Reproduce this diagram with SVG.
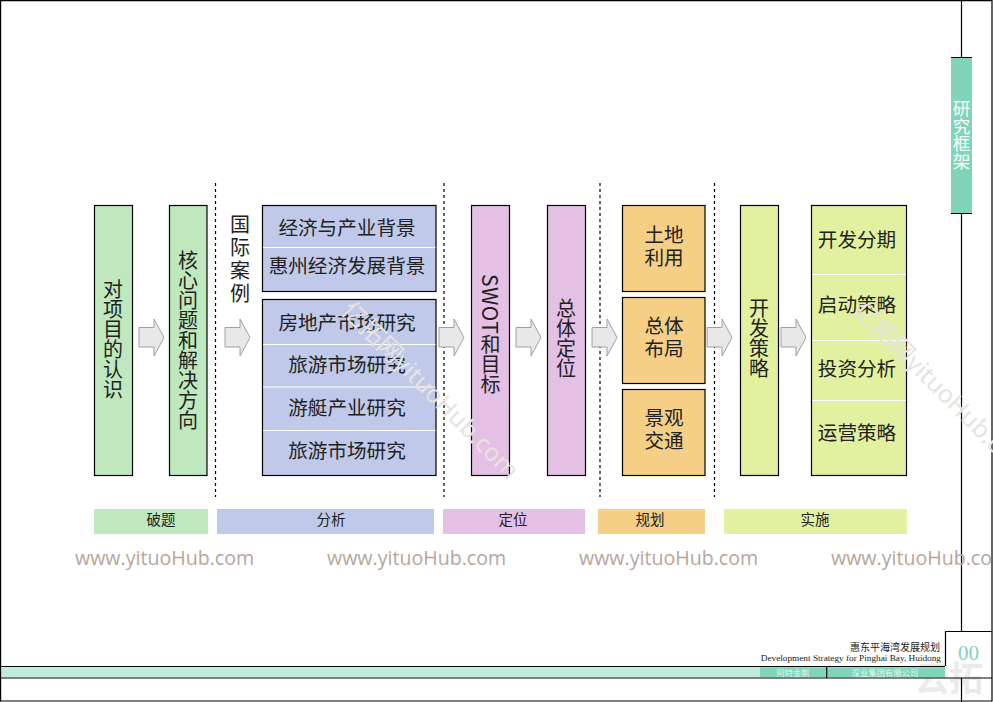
<svg xmlns="http://www.w3.org/2000/svg" width="993" height="702" viewBox="0 0 993 702">
<style>
text{font-family:"Noto Sans CJK SC","Noto Sans",sans-serif;fill:#222}
.b{stroke:#000;stroke-width:1.2}
.g{fill:#bfe8bf}.u{fill:#c0c9e9}.p{fill:#e3c0e4}.o{fill:#f4cf85}.l{fill:#e2f1a0}
.t{font-size:19.6px;text-anchor:middle}
.v{font-size:20px;text-anchor:start;writing-mode:vertical-rl}
.s{font-size:14.5px;text-anchor:middle}
.w{stroke:#fff;stroke-width:1.2}
.k{stroke:#000;stroke-width:1.2;fill:none}
.d{stroke:#000;stroke-width:1.2;stroke-dasharray:3 3;fill:none}
.a{fill:#e8e8e8;stroke:#a0a0a0;stroke-width:1}
.wm{font-family:"Open Sans","Noto Sans",sans-serif;font-size:19.6px;fill:#b5a69b}
.dg{font-family:"Noto Sans","Noto Sans CJK SC",sans-serif;font-size:24.8px;fill:#e6e3e0}
</style>
<defs><path id="arr" class="a" d="M0 7.5H15V-1L25 17.5 15 36V27H0Z"/></defs>
<rect width="993" height="702" fill="#fff"/>
<text x="915" y="691" style="font-size:34px;font-weight:700;fill:#e9eaec">云拓</text>
<g id="frame">
<rect x="1.5" y="667.2" width="759" height="10" fill="#c2ebe0"/>
<rect x="760" y="667.2" width="185" height="10" fill="#80d4ba"/>
<path class="k" d="M.6 .6H992V701H.6ZM961.5 0V57M961.5 213V631M945.5 666V631.5H992M0 666.5H945M0 678H992M961.5 678V702M826.7 667V678"/>
</g>
<g id="tab">
<rect x="951" y="57.5" width="21" height="156" fill="#80d4ba"/>
<path class="k" d="M951 57.5H972M951 213.5H972"/>
<text x="961.5" y="100" style="font-size:17.5px;fill:#fff;text-anchor:start;writing-mode:vertical-rl">研究框架</text>
</g>
<g id="separators">
<path class="d" d="M215.5 183V497M444 183V497M600 183V497M714.5 183V497"/>
</g>
<g id="n-project"><rect class="b g" x="94.5" y="205.5" width="38" height="270"/><text class="v" x="113" y="279">对项目的认识</text></g>
<g id="n-core"><rect class="b g" x="169.5" y="205.5" width="37.5" height="270"/><text class="v" x="188" y="250">核心问题和解决方向</text></g>
<g id="n-intl"><text class="v" x="240" y="214" style="letter-spacing:3px">国际案例</text></g>
<g id="n-bg">
<rect class="b u" x="262.5" y="205.5" width="173.5" height="86"/>
<path class="w" d="M263 247.5H435.5"/>
<text class="t" x="347" y="235">经济与产业背景</text>
<text class="t" x="347" y="273">惠州经济发展背景</text>
</g>
<g id="n-market">
<rect class="b u" x="262.5" y="299.5" width="173.5" height="176"/>
<path class="w" d="M263 344.5H435.5M263 387H435.5M263 430.5H435.5"/>
<text class="t" x="347" y="329.500">房地产市场研究</text>
<text class="t" x="347" y="372">旅游市场研究</text>
<text class="t" x="347" y="415">游艇产业研究</text>
<text class="t" x="347" y="458">旅游市场研究</text>
</g>
<g id="n-swot"><rect class="b p" x="471.5" y="205.5" width="38" height="270"/><text class="v" x="490.5" y="274"><tspan style="font-size:21px;letter-spacing:.5px">SWOT</tspan>和目标</text></g>
<g id="n-position"><rect class="b p" x="547.5" y="205.5" width="38" height="270"/><text class="v" x="566" y="298">总体定位</text></g>
<g id="n-land"><rect class="b o" x="622.5" y="205.5" width="82.5" height="86"/><text class="t" x="664" y="242">土地</text><text class="t" x="664" y="265">利用</text></g>
<g id="n-layout"><rect class="b o" x="622.5" y="297.5" width="82.5" height="86"/><text class="t" x="664" y="333">总体</text><text class="t" x="664" y="356">布局</text></g>
<g id="n-view"><rect class="b o" x="622.5" y="389.5" width="82.5" height="86"/><text class="t" x="664" y="425">景观</text><text class="t" x="664" y="448">交通</text></g>
<g id="n-dev"><rect class="b l" x="740.5" y="205.5" width="38" height="270"/><text class="v" x="759" y="298">开发策略</text></g>
<g id="n-impl">
<rect class="b l" x="811.5" y="205.5" width="95" height="270"/>
<path class="w" d="M812 274.5H906M812 340.5H906M812 400.5H906"/>
<text class="t" x="857" y="247">开发分期</text>
<text class="t" x="857" y="312">启动策略</text>
<text class="t" x="857" y="376">投资分析</text>
<text class="t" x="857" y="440">运营策略</text>
</g>
<g id="connectors">
<use href="#arr" x="139" y="320"/>
<use href="#arr" x="225" y="320"/>
<use href="#arr" x="439" y="320"/>
<use href="#arr" x="516" y="320"/>
<use href="#arr" x="592" y="320"/>
<use href="#arr" x="707" y="320"/>
<use href="#arr" x="781" y="320"/>
</g>
<g id="stages">
<rect class="g" x="94" y="509" width="114" height="25"/><text class="s" x="161" y="525">破题</text>
<rect class="u" x="217" y="509" width="217" height="25"/><text class="s" x="331" y="525">分析</text>
<rect class="p" x="443" y="509" width="142" height="25"/><text class="s" x="513" y="525">定位</text>
<rect class="o" x="598" y="509" width="107" height="25"/><text class="s" x="650" y="525">规划</text>
<rect class="l" x="724" y="509" width="183" height="25"/><text class="s" x="815" y="525">实施</text>
</g>
<g id="title">
<text x="940" y="651" style="font-size:10px;text-anchor:end">惠东平海湾发展规划</text>
<text x="941" y="661" style="font-family:'Liberation Serif',serif;font-size:9.25px;text-anchor:end">Development Strategy for Pinghai Bay, Huidong</text>
<text x="968.5" y="660" style="font-family:'Liberation Serif',serif;font-size:21px;fill:#80d4ba;text-anchor:middle">00</text>
<text x="793" y="675.5" style="font-size:8.3px;fill:#e8f8f3;text-anchor:middle">阿特金斯</text>
<text x="885" y="675.5" style="font-size:8.3px;fill:#e8f8f3;text-anchor:middle">深业集团有限公司</text>
</g>
<g id="watermarks">
<text class="wm" x="75" y="565">www.yituoHub.com</text>
<text class="wm" x="327" y="565">www.yituoHub.com</text>
<text class="wm" x="579" y="565">www.yituoHub.com</text>
<text class="wm" x="831" y="565">www.yituoHub.com</text>
<text class="dg" transform="translate(340 312) rotate(45)">亿拓网yituoHub.com</text>
<text class="dg" transform="translate(852 312) rotate(45)">亿拓网yituoHub.com</text>
</g>
</svg>
